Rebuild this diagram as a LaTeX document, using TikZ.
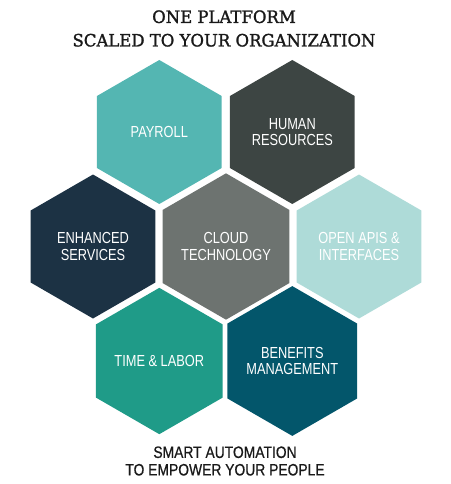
\documentclass[tikz,border=0pt]{standalone}
\usepackage{fontspec}
\setmainfont{Liberation Sans}
\newfontfamily\hexfont[FakeStretch=0.8]{Liberation Sans}
\newfontfamily\botfont[FakeStretch=0.84,FakeBold=0.6]{Liberation Sans}
\newfontfamily\titlefont[FakeStretch=0.97,FakeBold=1.4]{DejaVu Serif}
\usetikzlibrary{shapes.geometric}
\definecolor{cPay}{HTML}{54B6B2}
\definecolor{cHR}{HTML}{3D4543}
\definecolor{cEnh}{HTML}{1C3244}
\definecolor{cCloud}{HTML}{6D7370}
\definecolor{cApi}{HTML}{AEDBD8}
\definecolor{cTime}{HTML}{1F9B88}
\definecolor{cBen}{HTML}{03566B}
\tikzset{
  hexa/.style={regular polygon, regular polygon sides=6, shape border rotate=30,
    minimum size=144pt, inner sep=0pt, draw=none, text=white, align=center,
    font=\hexfont\fontsize{16}{16.5}\selectfont},
  titletext/.style={align=center, font=\titlefont\fontsize{17}{23.5}\selectfont, text=black!90},
  bottext/.style={align=center, font=\botfont\fontsize{16.5}{17.5}\selectfont, text=black!90}
}
\begin{document}
\begin{tikzpicture}[x=1pt,y=-1pt]
\useasboundingbox (0,0) rectangle (450,484);
\node[hexa, fill=cPay]   (pay)   at (159.3,132) {PAYROLL};
\node[hexa, fill=cHR]    (hr)    at (292.3,132) {HUMAN\\RESOURCES};
\node[hexa, fill=cEnh]   (enh)   at (93,246.5)  {ENHANCED\\SERVICES};
\node[hexa, fill=cCloud] (cloud) at (226,246.5) {CLOUD\\TECHNOLOGY};
\node[hexa, fill=cApi]   (api)   at (359,246.5) {OPEN APIS \&\\INTERFACES};
\node[hexa, fill=cTime]  (time)  at (159.3,361) {TIME \& LABOR};
\node[hexa, fill=cBen]   (ben)   at (292.3,361) {BENEFITS\\MANAGEMENT};
\node[titletext] (title) at (224,28.5) {ONE PLATFORM\\SCALED TO YOUR ORGANIZATION};
\node[bottext] (bottom) at (225,461) {SMART AUTOMATION\\TO EMPOWER YOUR PEOPLE};
\end{tikzpicture}
\end{document}
